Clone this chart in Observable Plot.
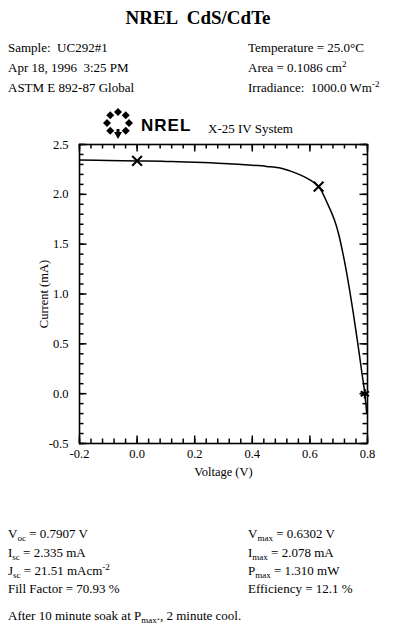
<!DOCTYPE html>
<html><head><meta charset="utf-8">
<script src="https://cdn.jsdelivr.net/npm/d3@7"></script>
<script src="https://cdn.jsdelivr.net/npm/@observablehq/plot@0.6"></script>
<style>
body{margin:0;background:#fff;font-family:"Liberation Serif","Times New Roman",serif;color:#000}
#page{position:relative;width:396px;height:637px;overflow:hidden;background:#fff}
.t{position:absolute;font-size:13px;line-height:13px;white-space:pre}
sub{font-size:9px;vertical-align:-3px;line-height:0}
sup{font-size:9px;vertical-align:5px;line-height:0}
#chart{position:absolute;left:0;top:130px;width:396px;height:360px}
#chart svg{font-family:"Liberation Serif","Times New Roman",serif;font-size:12px;color:#000}
#logo{position:absolute;left:98px;top:108px}
</style></head><body>
<div id="page">
<div class="t" style="left:0;width:396px;text-align:center;top:8px;font-size:19px;line-height:19px;font-weight:bold">NREL  CdS/CdTe</div>
<div class="t" style="left:8px;top:41px">Sample:  UC292#1</div>
<div class="t" style="left:8px;top:61px">Apr 18, 1996  3:25 PM</div>
<div class="t" style="left:8px;top:81px">ASTM E 892-87 Global</div>
<div class="t" style="left:248px;top:41px">Temperature = 25.0°C</div>
<div class="t" style="left:248px;top:61px">Area = 0.1086 cm<sup>2</sup></div>
<div class="t" style="left:248px;top:81px">Irradiance:  1000.0 Wm<sup>-2</sup></div>
<svg id="logo" width="100" height="34" viewBox="0 0 100 34">
  <g fill="#000" id="ring"></g>
  <text x="43" y="23" font-family="Liberation Sans, Arial, sans-serif" font-weight="900" font-size="17" letter-spacing="1">NREL</text>
</svg>
<div class="t" style="left:208px;top:122px">X-25 IV System</div>
<div id="chart"></div>
<div class="t" style="left:8px;top:527px">V<sub>oc</sub> = 0.7907 V</div>
<div class="t" style="left:8px;top:546px">I<sub>sc</sub> = 2.335 mA</div>
<div class="t" style="left:8px;top:564px">J<sub>sc</sub> = 21.51 mAcm<sup>-2</sup></div>
<div class="t" style="left:8px;top:582px">Fill Factor = 70.93 %</div>
<div class="t" style="left:248px;top:527px">V<sub>max</sub> = 0.6302 V</div>
<div class="t" style="left:248px;top:546px">I<sub>max</sub> = 2.078 mA</div>
<div class="t" style="left:248px;top:564px">P<sub>max</sub> = 1.310 mW</div>
<div class="t" style="left:248px;top:582px">Efficiency = 12.1 %</div>
<div class="t" style="left:8px;top:609px">After 10 minute soak at P<sub>max</sub>., 2 minute cool.</div>
</div>
<script>
// I-V curve
const voltage = [-0.2, -0.1, 0.0, 0.1, 0.2, 0.3, 0.4, 0.45, 0.5, 0.54, 0.57, 0.6, 0.6302, 0.66, 0.685, 0.70, 0.72, 0.735, 0.75, 0.765, 0.78, 0.7907, 0.797];
const current = [2.345, 2.340, 2.335, 2.330, 2.322, 2.310, 2.292, 2.280, 2.262, 2.225, 2.19, 2.145, 2.078, 1.915, 1.745, 1.60, 1.33, 1.09, 0.82, 0.53, 0.22, 0.0, -0.19];
// marked points: Isc, Pmax, Voc
const markerV = [0, 0.6302, 0.7907];
const markerI = [2.335, 2.078, 0];
const markerSymbol = ["times", "times", "asterisk"];
// axis ticks
const xMajor = [-0.2, 0.0, 0.2, 0.4, 0.6, 0.8];
const yMajor = [-0.5, 0.0, 0.5, 1.0, 1.5, 2.0, 2.5];
const xMinor = d3.range(-0.2, 0.8001, 0.04);
const yMinor = d3.range(-0.5, 2.5001, 0.1);

const iv = voltage.map((v, k) => ({v, i: current[k]}));
const pts = markerV.map((v, k) => ({v, i: markerI[k], s: markerSymbol[k]}));
const fmt = d => d.toFixed(1);

const W = 396, H = 360, mL = 79, mR = 29, mT = 14, mB = 47;
const innerW = W - mL - mR, innerH = H - mT - mB;
const minorLen = 4.5, majorLen = 7.5;
const tk = {stroke: "black", strokeWidth: 1.5};
const tickMarks = [
  Plot.ruleX(xMinor, {x: d => d, insetTop: innerH - minorLen, ...tk}),
  Plot.ruleX(xMajor, {x: d => d, insetTop: innerH - majorLen, ...tk}),
  Plot.ruleX(xMinor, {x: d => d, insetBottom: innerH - minorLen, ...tk}),
  Plot.ruleX(xMajor, {x: d => d, insetBottom: innerH - majorLen, ...tk}),
  Plot.ruleY(yMinor, {y: d => d, insetRight: innerW - minorLen, ...tk}),
  Plot.ruleY(yMajor, {y: d => d, insetRight: innerW - majorLen, ...tk}),
  Plot.ruleY(yMinor, {y: d => d, insetLeft: innerW - minorLen, ...tk}),
  Plot.ruleY(yMajor, {y: d => d, insetLeft: innerW - majorLen, ...tk})
];

const chart = Plot.plot({
  width: W, height: H,
  marginLeft: mL, marginRight: mR, marginTop: mT, marginBottom: mB,
  x: {domain: [-0.2, 0.8]},
  y: {domain: [-0.5, 2.5]},
  marks: [
    Plot.frame({stroke: "black", fill: "none", strokeWidth: 1.6}),
    Plot.axisX({ticks: xMajor, tickSize: 0, tickPadding: 6, tickFormat: fmt, label: "Voltage (V)", labelAnchor: "center", labelArrow: "none", labelOffset: 32, fontSize: 12.5}),
    Plot.axisY({ticks: yMajor, tickSize: 0, tickPadding: 11, tickFormat: fmt, label: "Current (mA)", labelAnchor: "center", labelArrow: "none", labelOffset: 40, fontSize: 12.5}),
    Plot.line(iv, {x: "v", y: "i", curve: "catmull-rom", stroke: "black", strokeWidth: 1.5}),
    Plot.dot(pts, {x: "v", y: "i", symbol: "s", r: 4.5, stroke: "black", strokeWidth: 2}),
    ...tickMarks
  ]
});
document.getElementById("chart").appendChild(chart);

// decorative NREL logo ring
const ring = document.getElementById("ring");
const cx = 20, cy = 15, R = 11;
for (let k = 0; k < 8; k++) {
  const ang = k * Math.PI / 4;
  const x = cx + R * Math.cos(ang), y = cy + R * Math.sin(ang);
  const p = document.createElementNS("http://www.w3.org/2000/svg", "path");
  if (k === 2) {
    p.setAttribute("d", `M${x-4},${y-2} L${x+4},${y-2} L${x},${y+5} Z M${x-1.5},${y-5} h3 v3 h-3 Z`);
  } else {
    p.setAttribute("d", `M${x},${y-4} L${x+4},${y} L${x},${y+4} L${x-4},${y} Z`);
  }
  ring.appendChild(p);
}
</script>
</body></html>
